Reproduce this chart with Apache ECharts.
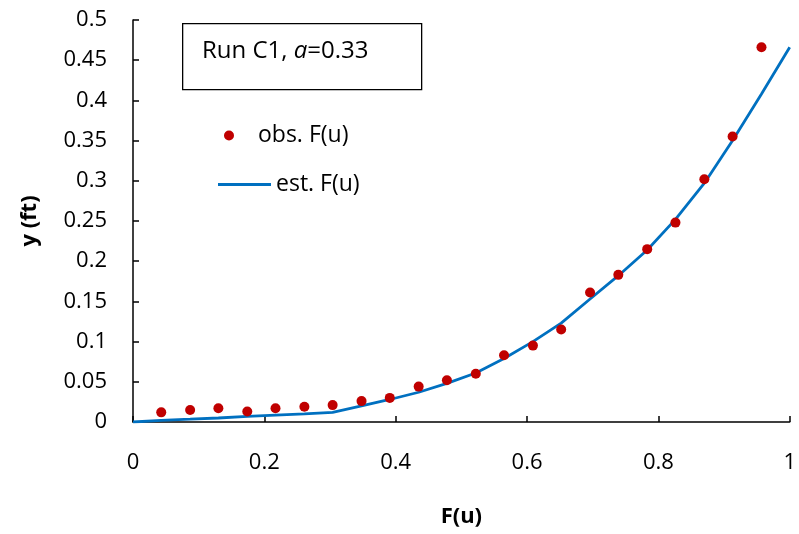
<!DOCTYPE html>
<html>
<head>
<meta charset="utf-8">
<script src="https://cdn.jsdelivr.net/npm/echarts@6/dist/echarts.min.js"></script>
<style>
  html, body { margin: 0; padding: 0; background: #fff; }
  #chart { width: 799px; height: 534px; }
</style>
</head>
<body>
<div id="chart"></div>
<script>
// Plotting positions F(u) of the observed points
const obsF = [0.043, 0.087, 0.130, 0.174, 0.217, 0.261, 0.304, 0.348, 0.391, 0.435, 0.478,
              0.522, 0.565, 0.609, 0.652, 0.696, 0.739, 0.783, 0.826, 0.870, 0.913, 0.957];
// Observed y (ft)
const obsY = [0.012, 0.015, 0.017, 0.013, 0.017, 0.019, 0.021, 0.026, 0.030, 0.044, 0.052,
              0.060, 0.083, 0.095, 0.115, 0.161, 0.183, 0.215, 0.248, 0.302, 0.355, 0.466];
// Estimated curve
const estF = [0, 0.043, 0.087, 0.130, 0.174, 0.217, 0.261, 0.304, 0.348, 0.391, 0.435, 0.478,
              0.522, 0.565, 0.609, 0.652, 0.696, 0.739, 0.783, 0.826, 0.870, 0.913, 0.957, 1];
const estY = [0, 0.002, 0.0035, 0.005, 0.007, 0.0085, 0.010, 0.012, 0.020, 0.028, 0.037, 0.048,
              0.061, 0.079, 0.100, 0.123, 0.153, 0.182, 0.214, 0.252, 0.297, 0.350, 0.408, 0.466];

const FONT = '"Open Sans", "Noto Sans", sans-serif';
const chart = echarts.init(document.getElementById('chart'), null, { renderer: 'canvas' });

const axisCommon = {
  axisLine: { show: true, lineStyle: { color: '#000', width: 1.5 } },
  axisTick: { show: true, inside: true, length: 6, lineStyle: { color: '#000', width: 1.5 } },
  splitLine: { show: false },
  axisLabel: { color: '#000', fontFamily: FONT, fontSize: 22 },
  nameTextStyle: { color: '#000', fontFamily: FONT, fontSize: 22, fontWeight: 'bold' }
};

chart.setOption({
  animation: false,
  backgroundColor: '#fff',
  grid: { left: 133, right: 4, top: 20, bottom: 112, containLabel: false },
  xAxis: Object.assign({}, axisCommon, {
    type: 'value', min: 0, max: 1, interval: 0.2,
    name: 'F(u)', nameLocation: 'middle', nameGap: 84,
    axisLabel: Object.assign({}, axisCommon.axisLabel, { margin: 30 })
  }),
  yAxis: Object.assign({}, axisCommon, {
    type: 'value', min: 0, max: 0.5, interval: 0.05,
    name: 'y (ft)', nameLocation: 'middle', nameGap: 92, nameRotate: 90,
    axisLabel: Object.assign({}, axisCommon.axisLabel, { margin: 26 })
  }),
  legend: [
    {
      data: ['obs. F(u)'], left: 219, top: 119, itemWidth: 48, itemHeight: 10, itemGap: 0,
      textStyle: { color: '#000', fontFamily: FONT, fontSize: 23 }
    },
    {
      data: [{ name: 'est. F(u)', icon: 'rect' }], left: 213, top: 168, itemWidth: 53, itemHeight: 3, itemGap: 0,
      textStyle: { color: '#000', fontFamily: FONT, fontSize: 23 }
    }
  ],
  graphic: [
    {
      type: 'rect', left: 182, top: 23, z: 10,
      shape: { width: 239, height: 66 },
      style: { fill: '#fff', stroke: '#000', lineWidth: 1.3 }
    },
    {
      type: 'text', left: 202, top: 39, z: 11,
      style: {
        text: '{n|Run C1, }{i|a}{n|=0.33}',
        rich: {
          n: { fontFamily: FONT, fontSize: 24, fill: '#000' },
          i: { fontFamily: FONT, fontSize: 24, fontStyle: 'italic', fill: '#000' }
        }
      }
    }
  ],
  series: [
    {
      name: 'est. F(u)', type: 'line', symbol: 'none', smooth: false,
      lineStyle: { color: '#0070C0', width: 2.8 },
      itemStyle: { color: '#0070C0' },
      data: estF.map((f, i) => [f, estY[i]]),
      z: 2
    },
    {
      name: 'obs. F(u)', type: 'scatter', symbol: 'circle', symbolSize: 10,
      itemStyle: { color: '#C00000', opacity: 1 },
      data: obsF.map((f, i) => [f, obsY[i]]),
      z: 3
    }
  ]
});
</script>
</body>
</html>
